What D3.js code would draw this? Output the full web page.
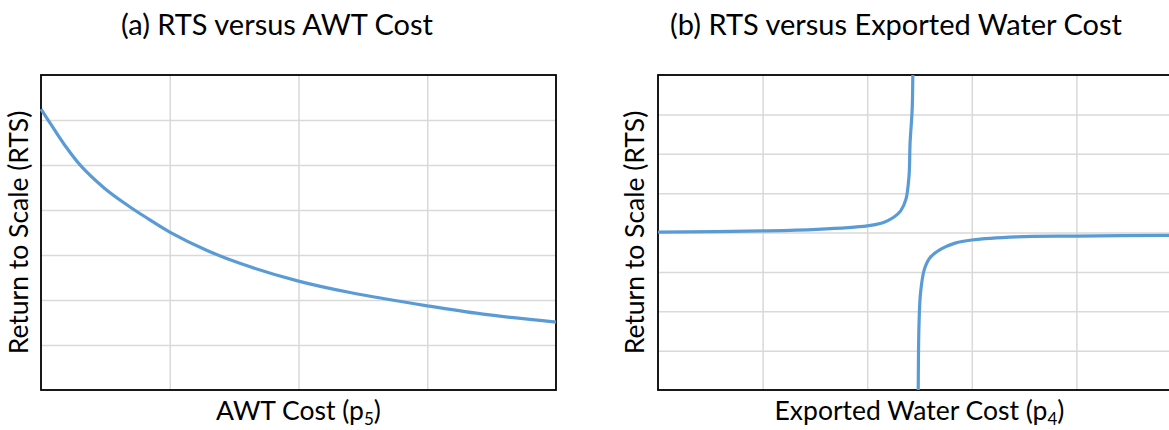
<!DOCTYPE html>
<html>
<head>
<meta charset="utf-8">
<script src="https://cdn.jsdelivr.net/npm/d3@7"></script>
<style>
  html, body { margin: 0; padding: 0; background: #fff; }
  svg { display: block; }
  text { font-family: Lato, "Open Sans", sans-serif; fill: #000; }
</style>
</head>
<body>
<svg id="chart" width="1169" height="430"></svg>
<script>
// Panel (a): return to scale against AWT cost
const awtCost = [0, 0.08, 0.185, 0.31, 0.495, 0.68, 0.83, 1.0, 1.29, 1.55, 2.0, 2.41, 3.0, 3.42, 4.0];
const rtsByAwt = [6.24, 5.89, 5.44, 4.98, 4.48, 4.09, 3.81, 3.51, 3.10, 2.81, 2.42, 2.16, 1.87, 1.69, 1.51];

// Panel (b): return to scale against exported water cost, two branches around the asymptote
const exportedCostLow = [0, 1.0, 1.52, 2.0, 2.15, 2.25, 2.32, 2.37, 2.40, 2.41, 2.43, 2.436];
const rtsLow = [4.01, 4.04, 4.08, 4.17, 4.25, 4.38, 4.55, 4.84, 5.44, 6.28, 7.13, 8.0];
const exportedCostHigh = [2.488, 2.495, 2.51, 2.547, 2.60, 2.70, 2.84, 3.0, 3.43, 4.0, 5.0];
const rtsHigh = [0, 1.63, 2.47, 3.07, 3.36, 3.57, 3.73, 3.81, 3.89, 3.91, 3.93];

const titles = ["(a) RTS versus AWT Cost", "(b) RTS versus Exported Water Cost"];
const xLabels = [["AWT Cost (p", "5", ")"], ["Exported Water Cost (p", "4", ")"]];
const yLabel = "Return to Scale (RTS)";

const svg = d3.select("#chart");
const lineColor = "#5b9bd5";
const gridColor = "#d9d9d9";

const panels = [
  {
    box: { left: 41, top: 75, width: 515, height: 315 },
    xDomain: [0, 4], yDomain: [0, 7],
    series: [awtCost.map((x, i) => [x, rtsByAwt[i]])],
    title: titles[0], titleX: 277, xLabel: xLabels[0], yLabelX: 28
  },
  {
    box: { left: 658, top: 75, width: 523, height: 315 },
    xDomain: [0, 5], yDomain: [0, 8],
    series: [
      exportedCostLow.map((x, i) => [x, rtsLow[i]]),
      exportedCostHigh.map((x, i) => [x, rtsHigh[i]])
    ],
    title: titles[1], titleX: 896, xLabel: xLabels[1], yLabelX: 644
  }
];

panels.forEach((p, k) => {
  const b = p.box;
  const x = d3.scaleLinear().domain(p.xDomain).range([b.left, b.left + b.width]);
  const y = d3.scaleLinear().domain(p.yDomain).range([b.top + b.height, b.top]);
  const g = svg.append("g");

  // gridlines
  const xt = d3.range(p.xDomain[0] + 1, p.xDomain[1]);
  const yt = d3.range(p.yDomain[0] + 1, p.yDomain[1]);
  g.append("g")
    .attr("transform", `translate(0,${b.top + b.height})`)
    .call(d3.axisBottom(x).tickValues(xt).tickSize(b.height).tickFormat(""))
    .call(s => s.select(".domain").remove())
    .call(s => s.selectAll(".tick line")
      .attr("y2", -b.height).attr("stroke", gridColor).attr("stroke-width", 1.5));
  g.append("g")
    .attr("transform", `translate(${b.left},0)`)
    .call(d3.axisLeft(y).tickValues(yt).tickSize(0).tickFormat(""))
    .call(s => s.select(".domain").remove())
    .call(s => s.selectAll(".tick line")
      .attr("x2", b.width).attr("stroke", gridColor).attr("stroke-width", 1.5));

  // plot frame
  g.append("rect")
    .attr("x", b.left).attr("y", b.top)
    .attr("width", b.width).attr("height", b.height)
    .attr("fill", "none").attr("stroke", "#000").attr("stroke-width", 1.8);

  // curves
  const clipId = "clip" + k;
  svg.append("clipPath").attr("id", clipId)
    .append("rect")
    .attr("x", b.left - 1).attr("y", b.top - 1)
    .attr("width", b.width + 2).attr("height", b.height + 2);
  const line = d3.line()
    .x(d => x(d[0])).y(d => y(d[1]))
    .curve(d3.curveCatmullRom.alpha(0.5));
  g.append("g").attr("clip-path", `url(#${clipId})`)
    .selectAll("path").data(p.series).join("path")
    .attr("d", line)
    .attr("fill", "none").attr("stroke", lineColor)
    .attr("stroke-width", 3.2).attr("stroke-linecap", "butt");

  // title
  g.append("text")
    .attr("x", p.titleX).attr("y", 35)
    .attr("text-anchor", "middle").attr("font-size", 29)
    .text(p.title);

  // x label with subscript
  const xl = g.append("text")
    .attr("x", b.left + b.width / 2).attr("y", 420)
    .attr("text-anchor", "middle").attr("font-size", 26.5);
  xl.append("tspan").text(p.xLabel[0]);
  xl.append("tspan").attr("font-size", 17).attr("dy", 5).text(p.xLabel[1]);
  xl.append("tspan").attr("dy", -5).text(p.xLabel[2]);

  // y label
  g.append("text")
    .attr("transform", `translate(${p.yLabelX},${b.top + b.height / 2}) rotate(-90)`)
    .attr("text-anchor", "middle").attr("font-size", 26.5)
    .text(yLabel);
});
</script>
</body>
</html>
